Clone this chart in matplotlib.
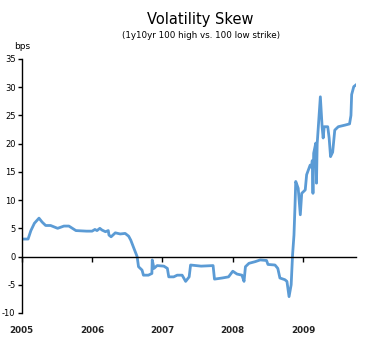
import matplotlib
matplotlib.use("Agg")
import matplotlib.pyplot as plt
import matplotlib.transforms as mtransforms

plt.rcParams["font.family"] = ["DejaVu Sans"]
plt.rcParams["axes.unicode_minus"] = False

# 日期 (decimal year) / skew in bps
years = [
    2005.00, 2005.09, 2005.13, 2005.18, 2005.245, 2005.29, 2005.34, 2005.41,
    2005.51, 2005.60, 2005.67, 2005.77, 2005.92, 2006.00, 2006.04, 2006.07,
    2006.11, 2006.14, 2006.19, 2006.23, 2006.24, 2006.27, 2006.33, 2006.40,
    2006.47, 2006.52, 2006.55, 2006.59, 2006.64, 2006.66, 2006.71, 2006.73,
    2006.80, 2006.85, 2006.855, 2006.88, 2006.925, 2007.02, 2007.07, 2007.09,
    2007.16, 2007.21, 2007.28, 2007.33, 2007.38, 2007.40, 2007.55, 2007.72,
    2007.74, 2007.85, 2007.94, 2008.00, 2008.06, 2008.13, 2008.16, 2008.18,
    2008.23, 2008.32, 2008.39, 2008.48, 2008.50, 2008.60, 2008.64, 2008.67,
    2008.74, 2008.77, 2008.80, 2008.83, 2008.85, 2008.87, 2008.885, 2008.895,
    2008.93, 2008.96, 2008.98, 2009.03, 2009.05, 2009.10, 2009.12, 2009.13,
    2009.14, 2009.15, 2009.18, 2009.19, 2009.20, 2009.245, 2009.27, 2009.285,
    2009.30, 2009.35, 2009.37, 2009.39, 2009.42, 2009.45, 2009.50, 2009.60,
    2009.66, 2009.68, 2009.69, 2009.72, 2009.75,
]
skew = [
    3.1, 3.1, 4.6, 5.9, 6.8, 6.1, 5.5, 5.5,
    5.0, 5.4, 5.4, 4.6, 4.5, 4.5, 4.8, 4.6,
    5.0, 4.7, 4.4, 4.6, 3.8, 3.5, 4.2, 4.0,
    4.1, 3.6, 2.9, 1.6, 0.0, -1.8, -2.4, -3.3,
    -3.3, -3.0, -0.6, -2.1, -1.6, -1.7, -2.1, -3.6,
    -3.6, -3.3, -3.3, -4.4, -3.6, -1.5, -1.7, -1.6,
    -4.0, -3.8, -3.6, -2.6, -3.1, -3.3, -4.4, -1.8,
    -1.2, -0.9, -0.6, -0.7, -1.4, -1.5, -2.1, -3.8,
    -4.1, -4.4, -7.1, -5.0, 0.3, 3.8, 9.1, 13.3,
    12.1, 7.4, 11.2, 11.8, 14.5, 16.2, 15.8, 17.0,
    11.2, 18.3, 20.1, 13.0, 20.0, 28.3, 23.0, 21.0,
    23.0, 23.0, 21.0, 17.7, 18.5, 22.4, 23.0, 23.3,
    23.5, 25.0, 28.7, 30.1, 30.4,
]

year_ticks = [2005, 2006, 2007, 2008, 2009]
y_ticks = [-10, -5, 0, 5, 10, 15, 20, 25, 30, 35]

fig = plt.figure(figsize=(3.75, 3.61), dpi=100)
ax = fig.add_axes([0.058, 0.133, 0.891, 0.7036])

ax.plot(years, skew, color="#5B9BD5", lw=2.0, solid_joinstyle="round")

ax.set_xlim(2005, 2009.75)
ax.set_ylim(-10, 35)
ax.set_yticks(y_ticks)
ax.set_xticks(year_ticks)
ax.set_xticklabels([])

for s in ["top", "right"]:
    ax.spines[s].set_visible(False)
ax.spines["bottom"].set_position(("data", 0))
ax.spines["left"].set_linewidth(1.0)
ax.spines["bottom"].set_linewidth(1.0)
ax.tick_params(axis="y", direction="out", length=3, width=1.0, pad=1.5, labelsize=6.0)
ax.tick_params(axis="x", direction="out", length=3.5, width=1.0)

# 年份標籤放在最下面
trans = mtransforms.blended_transform_factory(ax.transData, fig.transFigure)
for yr in year_ticks:
    ax.text(yr, 0.084, str(yr), transform=trans, ha="center", va="center",
            fontsize=6.3, fontweight="bold", color="#222222")

fig.text(0.535, 0.945, "Volatility Skew", ha="center", va="center", fontsize=10.5)
fig.text(0.535, 0.901, "(1y10yr 100 high vs. 100 low strike)", ha="center",
         va="center", fontsize=6.3)
fig.text(0.06, 0.871, "bps", ha="center", va="center", fontsize=6.5)

fig.savefig("out.png", dpi=100)
